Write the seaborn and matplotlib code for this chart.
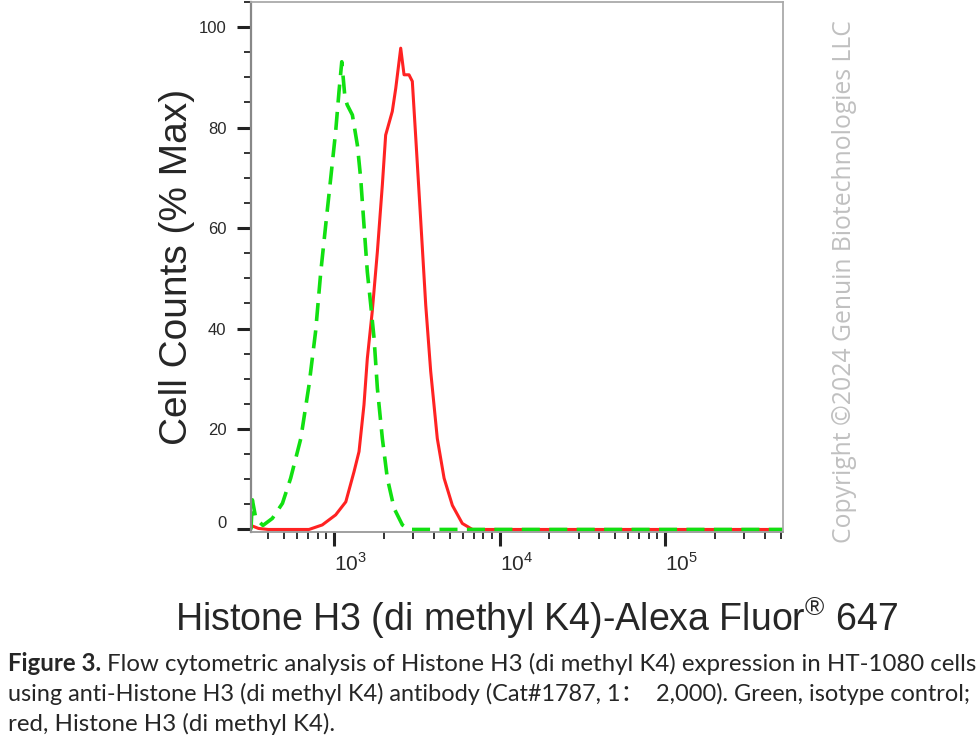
import matplotlib
matplotlib.use("Agg")
import matplotlib.pyplot as plt
import seaborn as sns
from matplotlib.ticker import LogLocator, NullFormatter, MultipleLocator
from matplotlib.transforms import ScaledTranslation

# fluorescence intensity (x) and % max (y)
red_x = [315, 350, 400, 706, 849, 1023, 1178, 1321, 1416, 1517, 1589, 1702, 1828, 1959, 2051,
         2249, 2360, 2529, 2649, 2838, 2972, 3119, 3342, 3581, 3837, 4207, 4624, 5188, 5957, 6855, 516000]
red_y = [0.8, 0.2, 0, 0, 0.9, 2.9, 5.5, 11.5, 15.5, 24.8, 34, 43.4, 55.3, 68.6, 78.5,
         83.2, 87.8, 95.8, 90.5, 90.5, 89.2, 77.9, 61.4, 44.7, 31.5, 18.1, 10.2, 4.8, 1.2, 0, 0]

green_x = [315, 321, 337, 372, 424, 488, 547, 630, 706, 774, 832, 891, 955, 1023, 1072, 1114,
           1164, 1202, 1291, 1384, 1449, 1517, 1589, 1667, 1746, 1828, 1959, 2099, 2307, 2588, 2838, 516000]
green_y = [0, 5.9, 2.2, 0.8, 2.2, 5.2, 10.2, 18.1, 28.7, 39.4, 51.3, 60.6, 69.9, 79.2, 87.2, 93.1,
           86, 84.5, 82.5, 76.5, 69.9, 60.6, 51.3, 44.7, 38, 28.1, 18.1, 10.2, 4.2, 0.9, 0, 0]

x_major = [1e3, 1e4, 1e5]
x_labels = [r'$10^{3}$', r'$10^{4}$', r'$10^{5}$']
y_major = [0, 20, 40, 60, 80, 100]

caption_lines = [
    'Flow cytometric analysis of Histone H3 (di methyl K4) expression in HT-1080 cells',
    'using anti-Histone H3 (di methyl K4) antibody (Cat#1787, 1：  2,000). Green, isotype control;',
    'red, Histone H3 (di methyl K4).',
]

sns.set_style("white")
plt.rcParams['font.family'] = ['Liberation Sans', 'DejaVu Sans']
plt.rcParams['mathtext.fontset'] = 'custom'
plt.rcParams['mathtext.rm'] = 'Liberation Sans'

fig = plt.figure(figsize=(9.8, 7.5), dpi=100)
ax = fig.add_axes([0.2561, 0.2907, 0.5429, 0.7067])
ax.set_xscale('log')

sns.lineplot(x=red_x, y=red_y, ax=ax, color='#ff2222', linewidth=2.2,
             estimator=None, sort=False)
sns.lineplot(x=green_x, y=green_y, ax=ax, color='#11e011', linewidth=2.6,
             linestyle=(0, (5, 2.6)), estimator=None, sort=False)

ax.set_xlim(315, 516000)
ax.set_ylim(-0.5, 105)

ax.set_xticks(x_major, labels=x_labels)
ax.xaxis.set_minor_locator(LogLocator(base=10, subs=range(2, 10), numticks=20))
ax.xaxis.set_minor_formatter(NullFormatter())
ax.set_yticks(y_major)
ax.yaxis.set_minor_locator(MultipleLocator(5))

ax.tick_params(axis='both', which='both', bottom=True, left=True, top=False, right=False)
ax.tick_params(axis='both', which='major', direction='out', color='#222222',
               length=9.8, width=2.2, labelsize=12, labelcolor='#2a2a2a')
ax.tick_params(axis='both', which='minor', direction='out', color='#333333',
               length=4.8, width=1.4)
ax.tick_params(axis='y', which='major', pad=8)
ax.tick_params(axis='x', which='major', pad=5, labelsize=15)
for lbl in ax.get_xticklabels():
    lbl.set_horizontalalignment('left')
# the "0" label sits a little above its tick in the original
zero_lbl = ax.get_yticklabels()[0]
zero_lbl.set_transform(zero_lbl.get_transform() + ScaledTranslation(0, 0.07, fig.dpi_scale_trans))

for side in ['top', 'right']:
    ax.spines[side].set_color('#aaaaaa')
    ax.spines[side].set_linewidth(1.3)
ax.spines['left'].set_color('#888888')
ax.spines['left'].set_linewidth(1.6)
ax.spines['bottom'].set_color('#999999')
ax.spines['bottom'].set_linewidth(1.3)

ax.set_ylabel('Cell Counts (% Max)', fontsize=28)
ax.yaxis.set_label_coords(-0.105, 0.5)
ax.set_xlabel('Histone H3 (di methyl K4)-Alexa Fluor$^{®}$ 647', fontsize=27)
ax.xaxis.set_label_coords(0.536, -0.118)

# copyright watermark
fig.text(0.862, 0.625, 'Copyright ©2024 Genuin Biotechnologies LLC', rotation=90,
         ha='center', va='center', fontsize=17.8, color='#c0c0c0',
         family=['Open Sans', 'DejaVu Sans'])

# caption, each full line stretched to the text block width like the original
cap_font = ['Lato', 'Noto Sans CJK SC', 'DejaVu Sans']
renderer = fig.canvas.get_renderer()
W = fig.bbox.width
left_px, full_px = 8, 967
baselines = [671, 701, 731]

bold = fig.text(left_px / W, 1 - baselines[0] / 750, 'Figure 3.', fontsize=15,
                fontweight='bold', family=cap_font, va='baseline')
rest = fig.text(0, 1 - baselines[0] / 750, caption_lines[0], fontsize=15,
                family=cap_font, va='baseline')
gap = 5
w1 = bold.get_window_extent(renderer).width + gap + rest.get_window_extent(renderer).width
size1 = 15 * full_px / w1
bold.set_fontsize(size1)
rest.set_fontsize(size1)
rest.set_x((left_px + bold.get_window_extent(renderer).width + gap * size1 / 15) / W)

line2 = fig.text(left_px / W, 1 - baselines[1] / 750, caption_lines[1], fontsize=15,
                 family=cap_font, va='baseline')
line2.set_fontsize(15 * full_px / line2.get_window_extent(renderer).width)

fig.text(left_px / W, 1 - baselines[2] / 750, caption_lines[2], fontsize=size1,
         family=cap_font, va='baseline')

fig.savefig('out.png', dpi=100)
